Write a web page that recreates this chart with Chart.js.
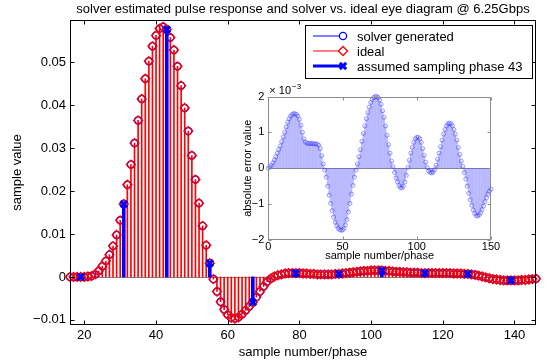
<!DOCTYPE html>
<html>
<head>
<meta charset="utf-8">
<script src="https://cdn.jsdelivr.net/npm/chart.js@4.4.1/dist/chart.umd.min.js"></script>
<style>
  body { margin: 0; background: #fff; }
  #wrap { position: relative; width: 547px; height: 361px; }
  #mainChart { position: absolute; left: 0; top: 0; }
  #insetChart { position: absolute; left: 220px; top: 80px; }
</style>
</head>
<body>
<div id="wrap">
  <canvas id="mainChart" width="547" height="361"></canvas>
  <canvas id="insetChart" width="290" height="195"></canvas>
</div>
<script>
// pulse response, one value per phase, phases 16..146
const firstPhase = 16;
const idealPulse = [
    0, 0, 0, 0, 0, 0.0001, 0.0002, 0.0006, 0.0014, 0.0025,                 // 16-25
    0.0037, 0.0052, 0.0072, 0.0098, 0.0132, 0.0170, 0.0215, 0.0262, 0.0312, 0.0365, // 26-35
    0.0415, 0.0462, 0.0503, 0.0538, 0.0563, 0.0579, 0.0583, 0.0577, 0.0558, 0.0529, // 36-45
    0.0491, 0.0446, 0.0394, 0.0340, 0.0283, 0.0227, 0.0172, 0.0119, 0.0074, 0.0032, // 46-55
    -0.0005, -0.0034, -0.0058, -0.0076, -0.0088, -0.0095, -0.0097, -0.0094, -0.0087, -0.0078, // 56-65
    -0.0069, -0.0059, -0.0047, -0.0034, -0.0022, -0.0011, -0.0004, 0.0001, 0.0004, 0.0006, // 66-75
    0.0008, 0.0009, 0.0009, 0.0009, 0.0009, 0.0008, 0.0008, 0.0007, 0.0007, 0.0006, // 76-85
    0.0006, 0.0006, 0.0006, 0.0006, 0.0007, 0.0007, 0.0008, 0.0009, 0.0010, 0.0011, // 86-95
    0.0012, 0.0013, 0.0014, 0.0014, 0.0015, 0.0015, 0.0015, 0.0015, 0.0014, 0.0014, // 96-105
    0.0013, 0.0012, 0.0012, 0.0011, 0.0011, 0.0010, 0.0010, 0.0010, 0.0009, 0.0009, // 106-115
    0.0009, 0.0009, 0.0009, 0.0009, 0.0009, 0.0009, 0.0009, 0.0008, 0.0008, 0.0008, // 116-125
    0.0007, 0.0007, 0.0006, 0.0005, 0.0003, 0.0001, -0.0001, -0.0003, -0.0005, -0.0006, // 126-135
    -0.0007, -0.0008, -0.0008, -0.0008, -0.0008, -0.0008, -0.0007, -0.0007, -0.0006, -0.0005, // 136-145
    -0.0004                                                                 // 146
];
// solver output sits on top of the ideal one at this scale
const solverPulse = idealPulse.slice();
const samplingPhases = [19, 31, 43, 55, 67, 79, 91, 103, 115, 127, 139];

const xTicks = [20, 40, 60, 80, 100, 120, 140];
const yTicks = [-0.01, 0, 0.01, 0.02, 0.03, 0.04, 0.05];
const yTickLabels = ['\u22120.01', '0', '0.01', '0.02', '0.03', '0.04', '0.05'];

// inset: absolute error (x 1e-3), phases 0..150
const errorValues = [
    0, 0.03, 0.08, 0.15, 0.23, 0.32, 0.42, 0.52, 0.62, 0.74,                // 0-9
    0.87, 1.0, 1.15, 1.28, 1.38, 1.45, 1.50, 1.52, 1.52, 1.50,              // 10-19
    1.45, 1.36, 1.20, 1.00, 0.82, 0.73, 0.70, 0.69, 0.69, 0.69,             // 20-29
    0.69, 0.68, 0.68, 0.67, 0.64, 0.55, 0.35, 0.12, -0.05, -0.25,           // 30-39
    -0.50, -0.75, -0.98, -1.18, -1.36, -1.50, -1.60, -1.67, -1.71, -1.73,   // 40-49
    -1.72, -1.68, -1.58, -1.43, -1.22, -0.98, -0.72, -0.48, -0.25, -0.05,   // 50-59
    0.12, 0.32, 0.52, 0.75, 0.97, 1.18, 1.38, 1.55, 1.70, 1.83,             // 60-69
    1.92, 1.97, 2.0, 2.0, 1.97, 1.90, 1.78, 1.60, 1.42, 1.18,               // 70-79
    0.92, 0.66, 0.42, 0.20, 0.04, -0.12, -0.27, -0.38, -0.48, -0.54,        // 80-89
    -0.55, -0.50, -0.38, -0.20, 0.02, 0.22, 0.42, 0.58, 0.72, 0.82,         // 90-99
    0.86, 0.86, 0.82, 0.72, 0.55, 0.36, 0.17, 0.02, -0.08, -0.12,           // 100-109
    -0.13, -0.11, -0.04, 0.08, 0.25, 0.42, 0.60, 0.78, 0.95, 1.08,          // 110-119
    1.18, 1.24, 1.26, 1.24, 1.18, 1.08, 0.95, 0.78, 0.58, 0.38,             // 120-129
    0.20, 0.05, -0.12, -0.30, -0.50, -0.70, -0.88, -1.03, -1.16, -1.26,     // 130-139
    -1.32, -1.33, -1.30, -1.24, -1.15, -1.05, -0.93, -0.82, -0.72, -0.64,   // 140-149
    -0.58                                                                   // 150
];
const insetXTicks = [0, 50, 100, 150];
const insetYTicks = [-2, -1, 0, 1, 2];
const insetYTickLabels = ['\u22122', '\u22121', '0', '1', '2'];

const fontFamily = "'Liberation Sans', Arial, Helvetica, sans-serif";
Chart.defaults.font.family = fontFamily;
Chart.defaults.font.size = 13;
Chart.defaults.color = '#000';

const idealPts = idealPulse.map((v, i) => ({ x: firstPhase + i, y: v }));
const solverPts = solverPulse.map((v, i) => ({ x: firstPhase + i, y: v }));
const samplePts = samplingPhases.map(p => ({ x: p, y: solverPulse[p - firstPhase] }));
const errorPts = errorValues.map((v, i) => ({ x: i, y: v }));

// matlab style box: zero baseline under the data, frame with inward ticks on top
const axesBox = {
    id: 'axesBox',
    beforeDraw(chart, args, opts) {
        if (!opts.fill) return;
        const a = chart.chartArea;
        chart.ctx.save();
        chart.ctx.fillStyle = opts.fill;
        chart.ctx.fillRect(a.left, a.top, a.right - a.left, a.bottom - a.top);
        chart.ctx.restore();
    },
    beforeDatasetsDraw(chart, args, opts) {
        const { ctx, chartArea: a, scales: { y } } = chart;
        const y0 = Math.round(y.getPixelForValue(0)) + 0.5;
        ctx.save();
        ctx.strokeStyle = opts.baseColor;
        ctx.lineWidth = 1;
        ctx.beginPath();
        ctx.moveTo(a.left, y0);
        ctx.lineTo(a.right, y0);
        ctx.stroke();
        ctx.restore();
    },
    afterDraw(chart, args, opts) {
        const { ctx, chartArea: a, scales: { x, y } } = chart;
        const L = Math.round(a.left) + 0.5, R = Math.round(a.right) - 0.5;
        const T = Math.round(a.top) + 0.5, B = Math.round(a.bottom) - 0.5;
        ctx.save();
        ctx.strokeStyle = opts.color;
        ctx.lineWidth = 1;
        ctx.strokeRect(L, T, R - L, B - T);
        ctx.beginPath();
        x.ticks.forEach(t => {
            const px = Math.round(x.getPixelForValue(t.value)) + 0.5;
            ctx.moveTo(px, B); ctx.lineTo(px, B - opts.tick);
            ctx.moveTo(px, T); ctx.lineTo(px, T + opts.tick);
        });
        y.ticks.forEach(t => {
            const py = Math.round(y.getPixelForValue(t.value)) + 0.5;
            ctx.moveTo(L, py); ctx.lineTo(L + opts.tick, py);
            ctx.moveTo(R, py); ctx.lineTo(R - opts.tick, py);
        });
        ctx.stroke();
        ctx.restore();
    }
};

// title over the axes and the boxed legend with line + marker samples
const mainDecor = {
    id: 'mainDecor',
    afterDraw(chart, args, opts) {
        const { ctx, chartArea: a } = chart;
        ctx.save();
        ctx.font = '13px ' + fontFamily;
        ctx.fillStyle = '#000';
        ctx.textAlign = 'center';
        ctx.textBaseline = 'middle';
        ctx.fillText(opts.title, (a.left + a.right) / 2, opts.titleY);

        const b = opts.box;
        ctx.fillStyle = '#fff';
        ctx.fillRect(b.x, b.y, b.w, b.h);
        ctx.strokeStyle = '#000';
        ctx.lineWidth = 1;
        ctx.strokeRect(b.x + 0.5, b.y + 0.5, b.w, b.h);
        ctx.textAlign = 'left';
        opts.items.forEach((it, i) => {
            const ds = chart.data.datasets[it.dataset];
            const yy = b.y + opts.firstRow + i * opts.rowGap;
            ctx.strokeStyle = ds.borderColor;
            ctx.lineWidth = it.lineWidth;
            ctx.beginPath();
            ctx.moveTo(b.x + 8, yy);
            ctx.lineTo(b.x + 38, yy);
            ctx.stroke();
            ctx.fillStyle = '#fff';
            ctx.lineWidth = ds.borderWidth;
            Chart.helpers.drawPoint(ctx, { pointStyle: ds.pointStyle, radius: ds.radius, borderWidth: ds.borderWidth, rotation: 0 }, b.x + 38, yy);
            ctx.fillStyle = '#000';
            ctx.fillText(ds.label, b.x + 52, yy + 1);
        });
        ctx.restore();
    }
};

const mainChart = new Chart(document.getElementById('mainChart'), {
    type: 'bar',
    data: {
        datasets: [
            { type: 'scatter', label: 'assumed sampling phase 43', data: samplePts, pointStyle: 'crossRot',
              radius: 4.5, borderColor: '#0000ff', borderWidth: 3, clip: false, order: 0 },
            { type: 'bar', data: samplePts, backgroundColor: '#0000ff', barThickness: 3, grouped: false, order: 1 },
            { type: 'scatter', label: 'ideal', data: idealPts, pointStyle: 'rectRot', radius: 4.5,
              borderColor: '#ff0000', backgroundColor: 'rgba(0,0,0,0)', borderWidth: 1.3, clip: false, order: 2 },
            { type: 'scatter', label: 'solver generated', data: solverPts, pointStyle: 'circle', radius: 3.6,
              borderColor: '#0000ff', backgroundColor: 'rgba(0,0,0,0)', borderWidth: 1.3, clip: false, order: 3 },
            // ideal stems cover the solver ones, so only the red ones are drawn
            { type: 'bar', data: idealPts, backgroundColor: '#ff0000', barThickness: 1, grouped: false, order: 4 }
        ]
    },
    options: {
        responsive: false,
        animation: false,
        events: [],
        layout: { padding: { top: 20, right: 11 } },
        plugins: {
            legend: { display: false },
            tooltip: { enabled: false },
            axesBox: { color: '#000', baseColor: '#808080', tick: 4 },
            mainDecor: {
                title: 'solver estimated pulse response and solver vs. ideal eye diagram @ 6.25Gbps',
                titleY: 9,
                box: { x: 305, y: 25, w: 227, h: 53 },
                firstRow: 11, rowGap: 15,
                items: [
                    { dataset: 3, lineWidth: 1 },
                    { dataset: 2, lineWidth: 1 },
                    { dataset: 0, lineWidth: 3 }
                ]
            }
        },
        scales: {
            x: {
                type: 'linear', min: 16, max: 146, offset: false,
                grid: { display: false, drawTicks: false },
                border: { display: false },
                afterBuildTicks: s => { s.ticks = xTicks.map(v => ({ value: v })); },
                afterFit: s => { s.height = 36; },
                ticks: { padding: 3, maxRotation: 0, autoSkip: false },
                title: { display: true, text: 'sample number/phase', padding: { top: 0, bottom: 1 } }
            },
            y: {
                type: 'linear', min: -0.0112, max: 0.0599,
                grid: { display: false, drawTicks: false },
                border: { display: false },
                afterBuildTicks: s => { s.ticks = yTicks.map(v => ({ value: v })); },
                afterFit: s => { s.width = 70; },
                ticks: { padding: 4, autoSkip: false, callback: v => yTickLabels[yTicks.indexOf(v)] },
                title: { display: true, text: 'sample value', padding: { top: 10, bottom: 0 } }
            }
        }
    },
    plugins: [axesBox, mainDecor]
});

// "x 10^-3" multiplier above the inset y axis
const insetExponent = {
    id: 'insetExponent',
    afterDraw(chart) {
        const { ctx, chartArea: a } = chart;
        ctx.save();
        ctx.fillStyle = '#000';
        ctx.textBaseline = 'alphabetic';
        ctx.font = '11px ' + fontFamily;
        ctx.fillText('\u00d7 10', a.left + 1, a.top - 3);
        const w = ctx.measureText('\u00d7 10').width;
        ctx.font = '8px ' + fontFamily;
        ctx.fillText('\u22123', a.left + 2 + w, a.top - 8);
        ctx.restore();
    }
};

const insetChart = new Chart(document.getElementById('insetChart'), {
    type: 'bar',
    data: {
        datasets: [
            { type: 'scatter', data: errorPts, pointStyle: 'circle', radius: 2,
              borderColor: 'rgba(60,60,255,0.5)', backgroundColor: 'rgba(0,0,0,0)', borderWidth: 1, clip: false, order: 0 },
            { type: 'bar', data: errorPts, backgroundColor: 'rgba(70,70,255,0.35)', barThickness: 1, grouped: false, order: 1 }
        ]
    },
    options: {
        responsive: false,
        animation: false,
        events: [],
        layout: { padding: { top: 16.5, right: 19 } },
        plugins: {
            legend: { display: false },
            tooltip: { enabled: false },
            axesBox: { color: '#8c8c8c', baseColor: '#909090', tick: 3, fill: '#fff' }
        },
        scales: {
            x: {
                type: 'linear', min: 0, max: 150, offset: false,
                grid: { display: false, drawTicks: false },
                border: { display: false },
                afterBuildTicks: s => { s.ticks = insetXTicks.map(v => ({ value: v })); },
                afterFit: s => { s.height = 35; },
                ticks: { padding: 0, maxRotation: 0, autoSkip: false, font: { size: 11 } },
                title: { display: true, text: 'sample number/phase', font: { size: 11 }, padding: { top: 0, bottom: 12 } }
            },
            y: {
                type: 'linear', min: -2, max: 2,
                grid: { display: false, drawTicks: false },
                border: { display: false },
                afterBuildTicks: s => { s.ticks = insetYTicks.map(v => ({ value: v })); },
                afterFit: s => { s.width = 48.3; },
                ticks: { padding: 4, autoSkip: false, font: { size: 11 }, callback: v => insetYTickLabels[insetYTicks.indexOf(v)] },
                title: { display: true, text: 'absolute error value', font: { size: 11 }, padding: { top: 21, bottom: 0 } }
            }
        }
    },
    plugins: [axesBox, insetExponent]
});
</script>
</body>
</html>
